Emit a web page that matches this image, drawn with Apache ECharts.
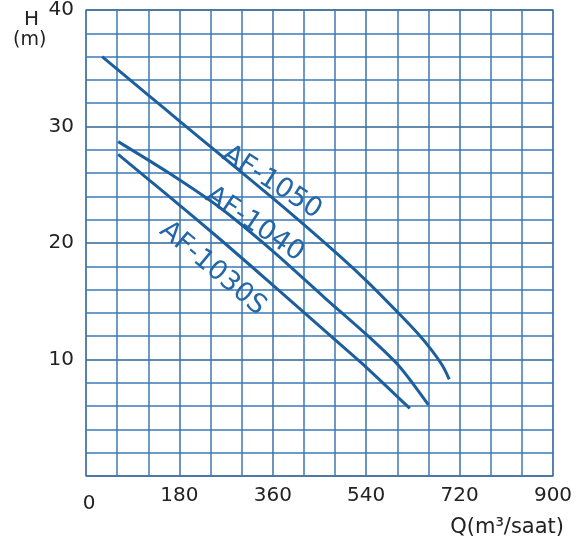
<!DOCTYPE html>
<html><head><meta charset="utf-8">
<script src="https://cdn.jsdelivr.net/npm/echarts@6/dist/echarts.min.js"></script>
<style>html,body{margin:0;padding:0;background:#fff}#c{width:580px;height:547px}</style>
</head><body><div id="c"></div>
<script>
// ---- data ----
const xTicks = [0, 180, 360, 540, 720, 900];
const yTicks = [0, 10, 20, 30, 40];
const seriesNames = ['AF-1050', 'AF-1040', 'AF-1030S'];
const af1050 = [[31,36.0],[120,32.7],[182,30.4],[280,26.8],[380,23.1],[486,19.0],[544,16.6],[604,13.9],[640,12.2],[666,10.8],[688,9.4],[700,8.3]];
const af1040 = [[62,28.7],[160,26.0],[259,23.0],[360,19.3],[460,15.3],[544,12.0],[604,9.4],[660,6.1]];
const af1030s = [[62,27.6],[160,24.0],[259,20.3],[370,16.0],[472,12.0],[536,9.5],[624,5.8]];
// label anchors in data coordinates
const labelAnchors = [[358,25.2],[325,21.6],[244,17.8]];
const labelAngles = [33, 34, 40];

const font = '"DejaVu Sans", sans-serif';
const lineColor = '#1d5f9c';
const chart = echarts.init(document.getElementById('c'));
const mk = (name, data) => ({
  name, type: 'line', data, smooth: 0.25, showSymbol: false, symbol: 'none',
  lineStyle: { color: lineColor, width: 3 }, silent: true
});
chart.setOption({
  animation: false,
  backgroundColor: '#fff',
  grid: { left: 86, top: 7, right: 27, bottom: 71, show: true, borderColor: '#8fa3b8', borderWidth: 1.5 },
  xAxis: {
    type: 'value', min: xTicks[0], max: xTicks[xTicks.length - 1], interval: 180,
    axisLine: { show: false }, axisTick: { show: false },
    axisLabel: {
      margin: 10, color: '#222', fontSize: 20, fontFamily: font,
      formatter: v => v === 0 ? '{z|0}' : String(v),
      rich: { z: { fontSize: 20, fontFamily: font, color: '#222', padding: [8, 0, 0, 6] } }
    },
    splitLine: { show: true, lineStyle: { color: '#3a72a8', width: 1.5 } },
    minorTick: { show: false, splitNumber: 3 },
    minorSplitLine: { show: true, lineStyle: { color: '#3d7bb8', width: 1.5 } }
  },
  yAxis: {
    type: 'value', min: yTicks[0], max: yTicks[yTicks.length - 1], interval: 10,
    axisLine: { show: false }, axisTick: { show: false },
    axisLabel: { margin: 12, color: '#222', fontSize: 20, fontFamily: font, formatter: v => v === 0 ? '' : String(v) },
    splitLine: { show: true, lineStyle: { color: '#2f6596', width: 1.5 } },
    minorTick: { show: false, splitNumber: 5 },
    minorSplitLine: { show: true, lineStyle: { color: '#3d7bb8', width: 1.5 } }
  },
  series: [mk(seriesNames[0], af1050), mk(seriesNames[1], af1040), mk(seriesNames[2], af1030s)]
});

const g = [];
labelAnchors.forEach((a, i) => {
  const p = chart.convertToPixel({ gridIndex: 0 }, a);
  g.push({
    type: 'text', x: p[0], y: p[1], rotation: -labelAngles[i] * Math.PI / 180,
    style: { text: seriesNames[i], fill: '#2466a6', font: '27px ' + font, align: 'center', verticalAlign: 'middle' }
  });
});
g.push({ type: 'text', left: 24, top: 10, style: { text: 'H', fill: '#222', font: '20px ' + font } });
g.push({ type: 'text', left: 13, top: 31, style: { text: '(m)', fill: '#222', font: '19px ' + font } });
g.push({ type: 'text', right: 16, top: 517, style: { text: 'Q(m³/saat)', fill: '#222', font: '21px ' + font } });
chart.setOption({ graphic: g });
</script>
</body></html>
